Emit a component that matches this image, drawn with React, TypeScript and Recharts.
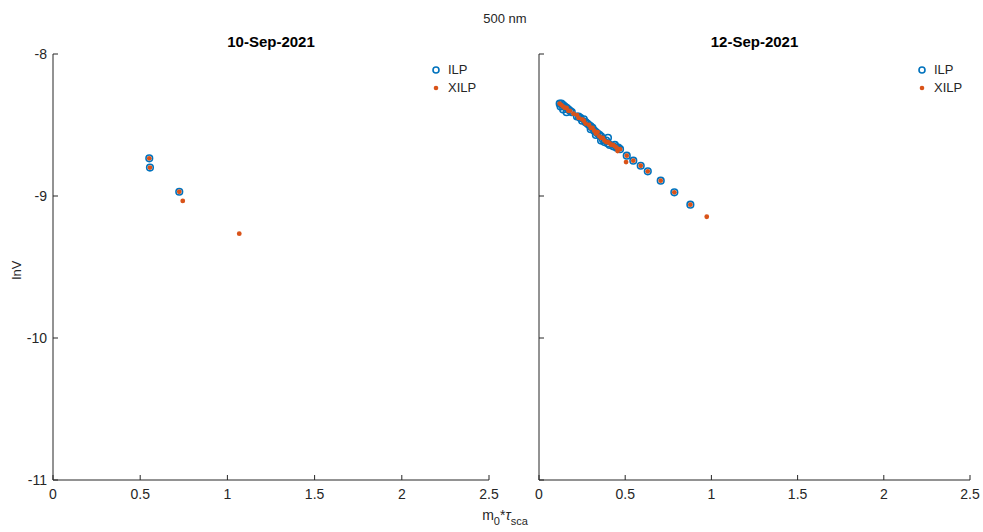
import React from 'react';
import { ScatterChart, Scatter, XAxis, YAxis } from 'recharts';

const xTicks = [0, 0.5, 1, 1.5, 2, 2.5];
const yTicks = [-11, -10, -9, -8];

const ilpSep10 = [
  { x: 0.552, y: -8.735 },
  { x: 0.556, y: -8.8 },
  { x: 0.724, y: -8.97 },
];
const xilpSep10 = [
  { x: 0.552, y: -8.735 },
  { x: 0.556, y: -8.8 },
  { x: 0.724, y: -8.97 },
  { x: 0.744, y: -9.035 },
  { x: 1.068, y: -9.265 },
];

const ilpSep12 = [
  { x: 0.12, y: -8.35 }, { x: 0.13, y: -8.35 }, { x: 0.125, y: -8.37 }, { x: 0.14, y: -8.36 },
  { x: 0.15, y: -8.37 }, { x: 0.14, y: -8.39 }, { x: 0.16, y: -8.38 }, { x: 0.17, y: -8.39 },
  { x: 0.18, y: -8.4 }, { x: 0.16, y: -8.41 }, { x: 0.19, y: -8.41 }, { x: 0.22, y: -8.44 },
  { x: 0.23, y: -8.44 }, { x: 0.24, y: -8.45 }, { x: 0.25, y: -8.47 }, { x: 0.26, y: -8.46 },
  { x: 0.27, y: -8.48 }, { x: 0.28, y: -8.49 }, { x: 0.29, y: -8.5 }, { x: 0.3, y: -8.51 },
  { x: 0.31, y: -8.52 }, { x: 0.3, y: -8.53 }, { x: 0.32, y: -8.54 }, { x: 0.33, y: -8.55 },
  { x: 0.34, y: -8.56 }, { x: 0.33, y: -8.57 }, { x: 0.35, y: -8.57 }, { x: 0.36, y: -8.58 },
  { x: 0.37, y: -8.6 }, { x: 0.36, y: -8.61 }, { x: 0.38, y: -8.62 }, { x: 0.39, y: -8.61 },
  { x: 0.4, y: -8.63 }, { x: 0.4, y: -8.59 }, { x: 0.41, y: -8.64 }, { x: 0.43, y: -8.65 },
  { x: 0.44, y: -8.64 }, { x: 0.45, y: -8.66 }, { x: 0.46, y: -8.66 }, { x: 0.47, y: -8.67 },
  { x: 0.509, y: -8.716 }, { x: 0.547, y: -8.751 }, { x: 0.59, y: -8.787 }, { x: 0.631, y: -8.826 },
  { x: 0.706, y: -8.892 }, { x: 0.785, y: -8.974 }, { x: 0.878, y: -9.061 },
];
const xilpSep12 = [
  { x: 0.12, y: -8.35 }, { x: 0.13, y: -8.36 }, { x: 0.14, y: -8.37 }, { x: 0.15, y: -8.38 },
  { x: 0.16, y: -8.38 }, { x: 0.17, y: -8.4 }, { x: 0.18, y: -8.4 }, { x: 0.2, y: -8.42 },
  { x: 0.22, y: -8.43 }, { x: 0.23, y: -8.45 }, { x: 0.25, y: -8.46 }, { x: 0.26, y: -8.47 },
  { x: 0.27, y: -8.49 }, { x: 0.29, y: -8.5 }, { x: 0.3, y: -8.52 }, { x: 0.31, y: -8.52 },
  { x: 0.32, y: -8.54 }, { x: 0.33, y: -8.56 }, { x: 0.34, y: -8.55 }, { x: 0.35, y: -8.58 },
  { x: 0.36, y: -8.59 }, { x: 0.37, y: -8.59 }, { x: 0.38, y: -8.61 }, { x: 0.39, y: -8.62 },
  { x: 0.4, y: -8.62 }, { x: 0.41, y: -8.63 }, { x: 0.42, y: -8.64 }, { x: 0.43, y: -8.64 },
  { x: 0.44, y: -8.65 }, { x: 0.45, y: -8.66 }, { x: 0.456, y: -8.683 }, { x: 0.47, y: -8.67 },
  { x: 0.505, y: -8.761 }, { x: 0.509, y: -8.716 }, { x: 0.547, y: -8.751 }, { x: 0.59, y: -8.787 },
  { x: 0.631, y: -8.826 }, { x: 0.706, y: -8.892 }, { x: 0.785, y: -8.974 }, { x: 0.878, y: -9.061 },
  { x: 0.973, y: -9.146 },
];

const BLUE = '#0072BD';
const ORANGE = '#D95319';
const AXIS = '#262626';
const FONT = '"Liberation Sans", Arial, Helvetica, sans-serif';

const fmt = (v: number) => String(v);

const OpenCircle = (props: any) => (
  <circle cx={props.cx} cy={props.cy} r={3.3} fill="none" stroke={BLUE} strokeWidth={1.6} />
);
const Dot = (props: any) => <circle cx={props.cx} cy={props.cy} r={2.4} fill={ORANGE} />;

function LegendBox(props: { left: number }) {
  return (
    <div style={{ position: 'absolute', left: props.left, top: 61, fontFamily: FONT, fontSize: 13, color: AXIS, lineHeight: '18px' }}>
      <div style={{ display: 'flex', alignItems: 'center' }}>
        <svg width={16} height={10}>
          <circle cx={6} cy={5} r={3} fill="none" stroke={BLUE} strokeWidth={1.6} />
        </svg>
        <span style={{ marginLeft: 2 }}>ILP</span>
      </div>
      <div style={{ display: 'flex', alignItems: 'center' }}>
        <svg width={16} height={10}>
          <circle cx={6} cy={5} r={2.3} fill={ORANGE} />
        </svg>
        <span style={{ marginLeft: 2 }}>XILP</span>
      </div>
    </div>
  );
}

function Panel(props: {
  title: string;
  ilp: { x: number; y: number }[];
  xilp: { x: number; y: number }[];
  width: number;
  yWidth: number;
  showYLabels: boolean;
}) {
  const tickStyle = { fill: AXIS, fontSize: 14, fontFamily: FONT };
  return (
    <ScatterChart width={props.width} height={532} margin={{ top: 54, right: 13, bottom: 0, left: 0 }}>
      <XAxis
        type="number"
        dataKey="x"
        domain={[0, 2.5]}
        ticks={xTicks}
        tickFormatter={fmt}
        height={52}
        tickSize={-5}
        tickMargin={14}
        stroke={AXIS}
        tick={tickStyle}
        allowDataOverflow
      />
      <YAxis
        type="number"
        dataKey="y"
        domain={[-11, -8]}
        ticks={yTicks}
        tickFormatter={props.showYLabels ? fmt : () => ''}
        width={props.yWidth}
        tickSize={-5}
        tickMargin={11}
        stroke={AXIS}
        tick={tickStyle}
        allowDataOverflow
      />
      <Scatter name="ILP" data={props.ilp} shape={OpenCircle} isAnimationActive={false} />
      <Scatter name="XILP" data={props.xilp} shape={Dot} isAnimationActive={false} />
      <text
        x={props.yWidth + (props.width - props.yWidth - 13) / 2}
        y={47}
        textAnchor="middle"
        fontFamily={FONT}
        fontWeight="bold"
        fontSize={15}
        fill="#000"
      >
        {props.title}
      </text>
    </ScatterChart>
  );
}

export default function App() {
  return (
    <div style={{ position: 'absolute', left: 0, top: 0, width: 983, height: 532, background: '#fff', fontFamily: FONT }}>
      <div style={{ position: 'absolute', left: 0, top: 0 }}>
        <Panel title="10-Sep-2021" ilp={ilpSep10} xilp={xilpSep10} width={502} yWidth={53} showYLabels />
      </div>
      <div style={{ position: 'absolute', left: 500, top: 0 }}>
        <Panel title="12-Sep-2021" ilp={ilpSep12} xilp={xilpSep12} width={483} yWidth={39} showYLabels={false} />
      </div>
      <LegendBox left={430} />
      <LegendBox left={916} />
      <svg width={983} height={532} style={{ position: 'absolute', left: 0, top: 0, pointerEvents: 'none' }}>
        <text x={505} y={23} textAnchor="middle" fontSize={13} fill={AXIS} fontFamily={FONT}>500 nm</text>
        <text x={0} y={0} transform="translate(21,270) rotate(-90)" textAnchor="middle" fontSize={13} fill={AXIS} fontFamily={FONT}>lnV</text>
        <text x={505} y={520} textAnchor="middle" fontSize={14} fill={AXIS} fontFamily={FONT}>
          m<tspan dy={5} fontSize={11}>0</tspan>
          <tspan dy={-5}>*</tspan>
          <tspan fontStyle="italic">τ</tspan>
          <tspan dy={5} fontSize={11}>sca</tspan>
        </text>
      </svg>
    </div>
  );
}
